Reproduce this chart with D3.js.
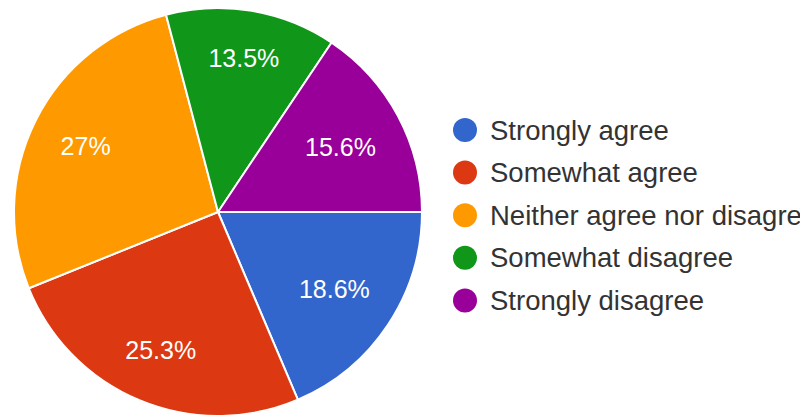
<!DOCTYPE html>
<html>
<head>
<meta charset="utf-8">
<script src="https://cdn.jsdelivr.net/npm/d3@7"></script>
<style>
  html, body { margin: 0; padding: 0; background: #ffffff; }
  svg { display: block; }
</style>
</head>
<body>
<svg id="chart" width="800" height="415"></svg>
<script>
// Survey responses (percent of respondents)
const categories = ["Strongly agree", "Somewhat agree", "Neither agree nor disagree", "Somewhat disagree", "Strongly disagree"];
const shares = [18.6, 25.3, 27, 13.5, 15.6];
const palette = ["#3366cc", "#dc3912", "#ff9900", "#109618", "#990099"];

const W = 800, H = 415;
const cx = 218, cy = 212, radius = 204;
const fontFamily = "'Liberation Sans', Arial, sans-serif";

const svg = d3.select("#chart");
const data = categories.map((c, i) => ({ name: c, value: shares[i] }));

const color = d3.scaleOrdinal().domain(categories).range(palette);

// Slices start at 3 o'clock and run clockwise
const pie = d3.pie()
  .value(d => d.value)
  .sort(null)
  .startAngle(Math.PI / 2)
  .endAngle(Math.PI / 2 + 2 * Math.PI);

const arc = d3.arc().innerRadius(0).outerRadius(radius);
const arcs = pie(data);

const g = svg.append("g").attr("transform", `translate(${cx},${cy})`);

g.selectAll("path.slice")
  .data(arcs)
  .join("path")
  .attr("class", "slice")
  .attr("d", arc)
  .attr("fill", d => color(d.data.name))
  .attr("stroke", "#ffffff")
  .attr("stroke-width", 2)
  .attr("stroke-linejoin", "round");

// Percentage labels: each text box is pushed outward along the slice's
// mid-angle until its outer corner reaches a fixed radius.
const cornerRadius = 175;
const labels = g.selectAll("text.pct")
  .data(arcs)
  .join("text")
  .attr("class", "pct")
  .attr("font-family", fontFamily)
  .attr("font-size", 25)
  .attr("fill", "#ffffff")
  .attr("text-anchor", "middle")
  .attr("dominant-baseline", "central")
  .text(d => d3.format("~r")(d.data.value) + "%");

labels.each(function (d) {
  const bb = this.getBBox();
  const hw = bb.width / 2, hh = 10;
  const a = (d.startAngle + d.endAngle) / 2;
  const ux = Math.sin(a), uy = -Math.cos(a);
  const sx = ux >= 0 ? 1 : -1, sy = uy >= 0 ? 1 : -1;
  const b = ux * sx * hw + uy * sy * hh;
  const c = hw * hw + hh * hh - cornerRadius * cornerRadius;
  const t = -b + Math.sqrt(b * b - c);
  d3.select(this).attr("x", t * ux).attr("y", t * uy);
});

// Legend
const legendX = 465, legendY = 130, rowGap = 42.6;
const legend = svg.append("g");
const rows = legend.selectAll("g.row")
  .data(data)
  .join("g")
  .attr("class", "row")
  .attr("transform", (d, i) => `translate(${legendX},${legendY + i * rowGap})`);

rows.append("circle")
  .attr("r", 12)
  .attr("fill", d => color(d.name));

rows.append("text")
  .attr("x", 25)
  .attr("y", 0)
  .attr("dominant-baseline", "central")
  .attr("font-family", fontFamily)
  .attr("font-size", 27.5)
  .attr("fill", "#333333")
  .text(d => d.name);
</script>
</body>
</html>
